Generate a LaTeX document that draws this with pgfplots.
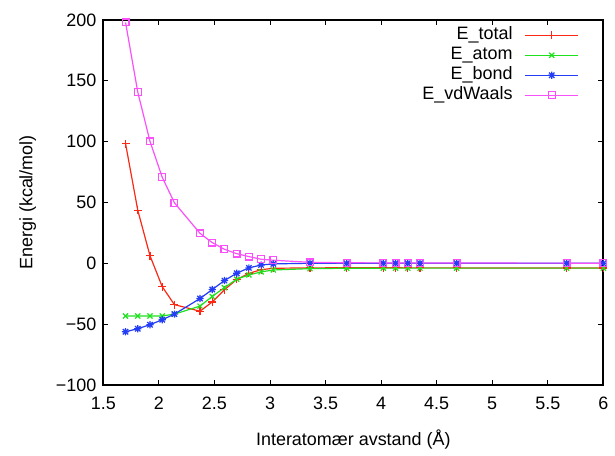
\documentclass[border=0pt]{standalone}
\usepackage{fontspec}
\setmainfont{Liberation Sans}
\usepackage{pgfplots}
\usepackage{pgfplotstable}
\pgfplotsset{compat=1.18}

\definecolor{gpred}{RGB}{250,40,20}
\definecolor{gpgreen}{RGB}{30,225,30}
\definecolor{gpblue}{RGB}{35,60,245}
\definecolor{gpmagenta}{RGB}{250,80,250}

% gnuplot style "*" : plus and cross on top of each other
\pgfdeclareplotmark{gpstar}{%
  \pgfpathmoveto{\pgfpoint{-\pgfplotmarksize}{0pt}}%
  \pgfpathlineto{\pgfpoint{\pgfplotmarksize}{0pt}}%
  \pgfpathmoveto{\pgfpoint{0pt}{-\pgfplotmarksize}}%
  \pgfpathlineto{\pgfpoint{0pt}{\pgfplotmarksize}}%
  \pgfpathmoveto{\pgfpoint{-0.75\pgfplotmarksize}{-0.75\pgfplotmarksize}}%
  \pgfpathlineto{\pgfpoint{0.75\pgfplotmarksize}{0.75\pgfplotmarksize}}%
  \pgfpathmoveto{\pgfpoint{-0.75\pgfplotmarksize}{0.75\pgfplotmarksize}}%
  \pgfpathlineto{\pgfpoint{0.75\pgfplotmarksize}{-0.75\pgfplotmarksize}}%
  \pgfusepathqstroke}

\pgfplotstableread{
r     total   atom    bond    vdw
1.70  98.4   -43.3   -56.3   198.0
1.81  43.6   -43.3   -53.8   140.7
1.92   6.2   -43.3   -50.5   100.2
2.03 -19.2   -43.3   -46.4    70.7
2.14 -34.0   -41.8   -41.8    49.7
2.37 -39.4   -35.2   -29.0    24.6
2.48 -31.8   -27.3   -21.6    17.0
2.59 -21.8   -20.0   -14.2    11.5
2.70 -13.3   -13.1    -8.2     7.9
2.81  -8.3    -9.6    -3.8     5.5
2.92  -5.3    -7.1    -1.4     3.3
3.03  -4.1    -5.5    -0.5     2.5
3.36  -3.8    -4.4     0.0     0.8
3.69  -3.7    -4.1     0.0     0.4
4.02  -3.7    -4.0     0.0     0.3
4.13  -3.7    -4.0     0.0     0.3
4.24  -3.8    -4.0     0.0     0.2
4.35  -3.8    -4.0     0.0     0.2
4.68  -3.8    -4.0     0.0     0.2
5.67  -3.9    -4.0     0.0     0.1
6.00  -3.9    -4.0     0.0     0.1
}\energy

\begin{document}
\begin{tikzpicture}[font=\fontsize{9}{11}\selectfont]
\begin{axis}[
    scale only axis,
    width=250.7pt, height=183pt,
    xmin=1.5, xmax=6, ymin=-100, ymax=200,
    xtick={1.5,2,2.5,3,3.5,4,4.5,5,5.5,6},
    xticklabels={1.5,2,2.5,3,3.5,4,4.5,5,5.5,6},
    ytick={-100,-50,0,50,100,150,200},
    yticklabels={−100,−50,0,50,100,150,200},
    tick align=inside,
    major tick length=2.5pt,
    every tick/.style={black, line width=0.5pt},
    axis line style={line width=1pt},
    xticklabel style={yshift=-2.5pt},
    xlabel={Interatomær avstand (Å)},
    ylabel={Energi (kcal/mol)},
    xlabel style={yshift=-3pt},
    ylabel style={yshift=3pt},
    legend cell align=right,
    legend plot pos=right,
    legend style={at={(rel axis cs:1,1)}, anchor=north east,
        xshift=-12pt, yshift=-2.5pt, draw=none, fill=none,
        inner sep=0pt, column sep=6pt,
        nodes={inner sep=0pt, text height=7pt, text depth=3pt}},
    legend image code/.code={%
        \draw[mark repeat=2,mark phase=2,#1]
        plot coordinates {(0cm,0cm) (0.47cm,0cm) (0.94cm,0cm)};},
]
\addplot[gpred, line width=0.6pt, mark=+, mark size=2pt,
    mark options={solid, draw=gpred, fill=none}] table[x=r, y=total] {\energy};
\addplot[gpgreen, line width=0.6pt, mark=x, mark size=1.8pt,
    mark options={solid, draw=gpgreen, fill=none}] table[x=r, y=atom] {\energy};
\addplot[gpblue, line width=0.6pt, mark=gpstar, mark size=1.8pt,
    mark options={solid, draw=gpblue, fill=none}] table[x=r, y=bond] {\energy};
\addplot[gpmagenta, line width=0.6pt, mark=square, mark size=1.7pt,
    mark options={solid, draw=gpmagenta, fill=none}] table[x=r, y=vdw] {\energy};
\legend{E\_total, E\_atom, E\_bond, E\_vdWaals}
\end{axis}
\path ([xshift=-51.8pt,yshift=-30.5pt]current axis.south west)
  rectangle ([xshift=5pt,yshift=10pt]current axis.north east);
\end{tikzpicture}
\end{document}
